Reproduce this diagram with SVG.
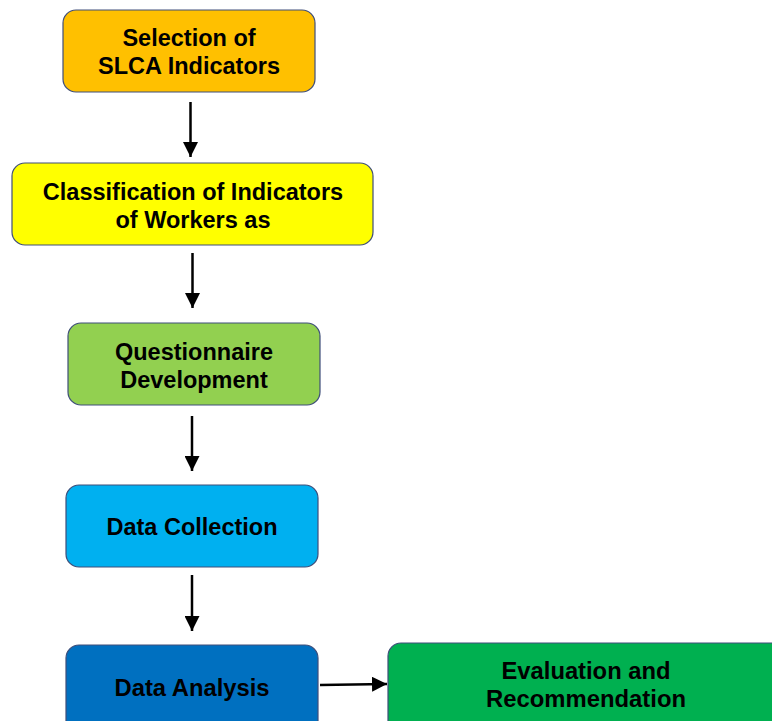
<svg xmlns="http://www.w3.org/2000/svg" width="772" height="721" viewBox="0 0 772 721">
<style>
.box{stroke:#3F4E7A;stroke-width:1.2}
.t{font-family:"Liberation Sans",Arial,sans-serif;font-weight:bold;font-size:23.5px;fill:#000;text-anchor:middle}
.c{stroke:#000;stroke-width:2.5;fill:none}
</style>
<defs>
<marker id="ah" viewBox="0 0 10 10" refX="10" refY="5" markerWidth="6" markerHeight="6" markerUnits="strokeWidth" orient="auto">
<path d="M0,0 L10,5 L0,10 Z" fill="#000"/>
</marker>
</defs>
<rect width="772" height="721" fill="#fff"/>
<g id="n1"><rect class="box" x="63" y="10" width="252" height="82" rx="13" fill="#FFC000"/>
<text class="t" x="189" y="46">Selection of</text><text class="t" x="189" y="74">SLCA Indicators</text></g>
<g id="n2"><rect class="box" x="12" y="163" width="361" height="82" rx="13" fill="#FFFF00"/>
<text class="t" x="193" y="200">Classification of Indicators</text><text class="t" x="193" y="228">of Workers as</text></g>
<g id="n3"><rect class="box" x="68" y="323" width="252" height="82" rx="13" fill="#92D050"/>
<text class="t" x="194" y="360">Questionnaire</text><text class="t" x="194" y="388">Development</text></g>
<g id="n4"><rect class="box" x="66" y="485" width="252" height="82" rx="13" fill="#00B0F0"/>
<text class="t" x="192" y="535">Data Collection</text></g>
<g id="n5"><rect class="box" x="66" y="645" width="252" height="90" rx="13" fill="#0070C0"/>
<text class="t" x="192" y="696" textLength="155" lengthAdjust="spacingAndGlyphs">Data Analysis</text></g>
<g id="n6"><rect class="box" x="388" y="643" width="400" height="90" rx="13" fill="#00B050"/>
<text class="t" x="586" y="679" textLength="169" lengthAdjust="spacingAndGlyphs">Evaluation and</text><text class="t" x="586" y="707" textLength="200" lengthAdjust="spacingAndGlyphs">Recommendation</text></g>
<g id="connectors">
<line class="c" x1="190.5" y1="102" x2="190.5" y2="157" marker-end="url(#ah)"/>
<line class="c" x1="192.5" y1="253" x2="192.5" y2="308" marker-end="url(#ah)"/>
<line class="c" x1="192" y1="416" x2="192" y2="471" marker-end="url(#ah)"/>
<line class="c" x1="192" y1="575" x2="192" y2="631" marker-end="url(#ah)"/>
<line class="c" x1="320" y1="685" x2="387" y2="684" marker-end="url(#ah)"/>
</g>
</svg>
